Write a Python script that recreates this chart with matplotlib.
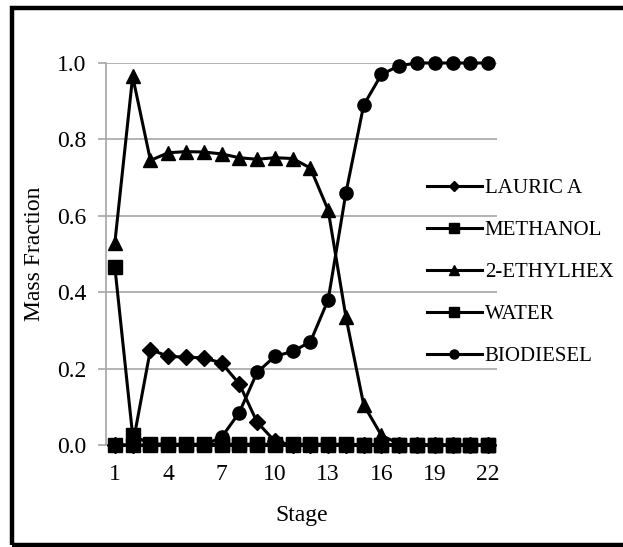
import matplotlib
matplotlib.use('Agg')
import matplotlib.pyplot as plt
from matplotlib.lines import Line2D
from matplotlib.patches import Rectangle

plt.rcParams['font.family'] = ['Liberation Serif', 'DejaVu Serif']

stages = list(range(1, 23))
lauric = [0.0, 0.0, 0.25, 0.232, 0.23, 0.228, 0.215, 0.16, 0.06, 0.01, 0.0,
          0.0, 0.0, 0.0, 0.0, 0.0, 0.0, 0.0, 0.0, 0.0, 0.0, 0.0]
methanol = [0.465, 0.025, 0.003, 0.002, 0.002, 0.002, 0.002, 0.002, 0.002, 0.002, 0.002,
            0.002, 0.002, 0.002, 0.001, 0.001, 0.001, 0.001, 0.0, 0.0, 0.0, 0.0]
ethylhex = [0.53, 0.965, 0.745, 0.765, 0.768, 0.767, 0.762, 0.752, 0.748, 0.752, 0.75,
            0.725, 0.615, 0.335, 0.105, 0.025, 0.003, 0.0, 0.0, 0.0, 0.0, 0.0]
water = [0.0] * 22
biodiesel = [0.0, 0.0, 0.0, 0.0, 0.0, 0.0, 0.02, 0.085, 0.19, 0.232, 0.245,
             0.27, 0.38, 0.66, 0.89, 0.97, 0.993, 1.0, 1.0, 1.0, 1.0, 1.0]

series = [('LAURIC A', lauric, 'D', 8.0, 5.5),
          ('METHANOL', methanol, 's', 10.0, 6.5),
          ('2-ETHYLHEX', ethylhex, '^', 9.5, 6.5),
          ('WATER', water, 's', 10.0, 6.5),
          ('BIODIESEL', biodiesel, 'o', 9.5, 6.5)]

W, H = 623, 547
fig = plt.figure(figsize=(W / 100, H / 100), dpi=100)

# outer frame (right edge is cut off in the original)
fig.patches.append(Rectangle((12 / W, 2 / H), 1.2, (H - 10) / H, transform=fig.transFigure,
                             fill=False, edgecolor='black', linewidth=3.2))

ax = fig.add_axes([106 / W, 102 / H, 391 / W, 382 / H])
grid_c = '#a6a6a6'

handles = []
for name, vals, mk, ms, lms in series:
    ax.plot(stages, vals, color='black', linewidth=2.2, marker=mk, markersize=ms,
            markerfacecolor='black', markeredgecolor='black', clip_on=False, zorder=3)
    handles.append(Line2D([], [], color='black', linewidth=2.2, marker=mk, markersize=lms,
                          markerfacecolor='black', markeredgecolor='black'))

ax.set_xlim(0.5, 22.5)
ax.set_ylim(0, 1.0)
ax.set_xticks(range(1, 23, 3))
ax.set_yticks([0.0, 0.2, 0.4, 0.6, 0.8, 1.0])
ax.set_yticklabels(['0.0', '0.2', '0.4', '0.6', '0.8', '1.0'])
ax.yaxis.grid(True, color=grid_c, linewidth=1.2, zorder=0)
ax.set_axisbelow(True)
for s in ['top', 'right', 'bottom']:
    ax.spines[s].set_visible(False)
ax.spines['left'].set_color(grid_c)
ax.spines['left'].set_linewidth(1.2)
ax.tick_params(axis='y', length=6, color=grid_c, width=1.2, labelsize=17, pad=8)
ax.tick_params(axis='x', length=0, labelsize=17, pad=14)

ax.set_xlabel('Stage', fontsize=17, labelpad=14)
ax.set_ylabel('Mass Fraction', fontsize=17, labelpad=9)

fig.legend(handles, [s[0] for s in series], loc='upper left',
           bbox_to_anchor=(419 / W, 1 - 170 / H), frameon=False, fontsize=15,
           handlelength=2.6, handletextpad=0.15, labelspacing=1.08, borderaxespad=0)

fig.savefig('out.png', dpi=100)
